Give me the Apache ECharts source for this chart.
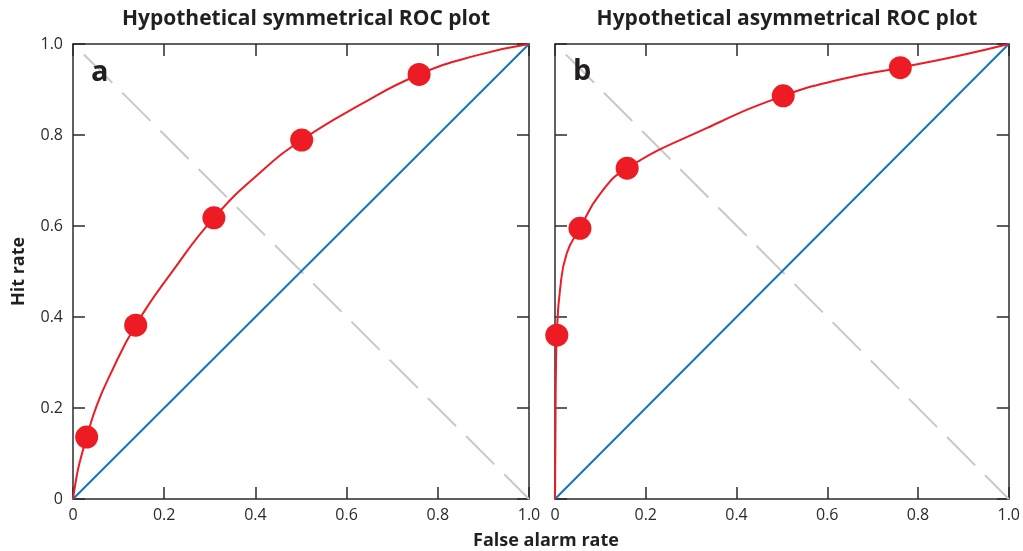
<!DOCTYPE html>
<html>
<head>
<meta charset="utf-8">
<script src="https://cdn.jsdelivr.net/npm/echarts@6/dist/echarts.min.js"></script>
<style>
  html, body { margin: 0; padding: 0; background: #fff; }
  #chart { width: 1023px; height: 551px; }
</style>
</head>
<body>
<div id="chart"></div>
<script>
// ---- Data ----
var tickValues = [0, 0.2, 0.4, 0.6, 0.8, 1.0];

// Panel a: symmetrical ROC
var symPointFA  = [0.030, 0.1375, 0.309, 0.5015, 0.759];
var symPointHit = [0.136, 0.382, 0.618, 0.789, 0.933];
var symCurveFA  = [0, 0.008, 0.014, 0.030, 0.052, 0.080, 0.1375, 0.220, 0.309, 0.410, 0.5015, 0.629, 0.759, 0.885, 1];
var symCurveHit = [0, 0.050, 0.078, 0.136, 0.205, 0.270, 0.382, 0.503, 0.618, 0.717, 0.789, 0.866, 0.933, 0.975, 1];

// Panel b: asymmetrical ROC
var asymPointFA  = [0.004, 0.055, 0.159, 0.503, 0.761];
var asymPointHit = [0.360, 0.595, 0.727, 0.886, 0.948];
var asymCurveFA  = [0, 0.001, 0.002, 0.004, 0.011, 0.026, 0.055, 0.099, 0.159, 0.334, 0.503, 0.628, 0.761, 0.885, 1];
var asymCurveHit = [0, 0.150, 0.280, 0.360, 0.459, 0.540, 0.595, 0.670, 0.727, 0.815, 0.886, 0.922, 0.948, 0.973, 1];

// Reference lines
var chanceFA  = [0, 1];
var chanceHit = [0, 1];
var antiFA  = [0.024, 1];
var antiHit = [0.977, 0];

var panelTitles = ['Hypothetical symmetrical ROC plot', 'Hypothetical asymmetrical ROC plot'];
var panelLetters = ['a', 'b'];
var xAxisTitle = 'False alarm rate';
var yAxisTitle = 'Hit rate';

// ---- Build ----
function zip(xs, ys) { return xs.map(function (x, i) { return [x, ys[i]]; }); }
function fmt(v) { return Math.abs(v) < 1e-9 ? '0' : v.toFixed(1); }

var RED = '#ED1C24', BLUE = '#1475BC', GRAY = '#C8C9CB', AX = '#2B2B2B';
var FONT = '"Open Sans", "Noto Sans", sans-serif';

var grids = [
  { left: 73, top: 44, width: 456, height: 455 },
  { left: 555, top: 44, width: 454, height: 455 }
];

function makeAxis(kind, gridIndex, position, showLabels) {
  return {
    type: 'value', gridIndex: gridIndex, position: position,
    min: 0, max: 1, interval: 0.2,
    axisLine: { show: true, onZero: false, lineStyle: { color: AX, width: 1.5 } },
    axisTick: { show: true, inside: true, length: 12, lineStyle: { color: AX, width: 1.5 } },
    axisLabel: {
      show: showLabels, formatter: fmt, color: '#2B2B2B',
      fontFamily: FONT, fontSize: 16, margin: kind === 'x' ? 8 : 10
    },
    splitLine: { show: false }
  };
}

var xAxes = [
  makeAxis('x', 0, 'bottom', true),
  makeAxis('x', 0, 'top', false),
  makeAxis('x', 1, 'bottom', true),
  makeAxis('x', 1, 'top', false)
];
var yAxes = [
  makeAxis('y', 0, 'left', true),
  makeAxis('y', 0, 'right', false),
  makeAxis('y', 1, 'left', false),
  makeAxis('y', 1, 'right', false)
];
yAxes[0].name = yAxisTitle;
yAxes[0].nameLocation = 'middle';
yAxes[0].nameRotate = 90;
yAxes[0].nameGap = 45;
yAxes[0].nameTextStyle = { fontFamily: FONT, fontWeight: 'bold', fontSize: 18, color: '#231F20' };

function panelSeries(gi, curveFA, curveHit, ptFA, ptHit) {
  var xi = gi * 2, yi = gi * 2;
  return [
    { type: 'line', xAxisIndex: xi, yAxisIndex: yi, data: zip(chanceFA, chanceHit),
      showSymbol: false, symbol: 'none', lineStyle: { color: BLUE, width: 2 }, z: 2, silent: true },
    { type: 'line', xAxisIndex: xi, yAxisIndex: yi, data: zip(antiFA, antiHit),
      showSymbol: false, symbol: 'none', lineStyle: { color: GRAY, width: 2, type: [40, 14] }, z: 1, silent: true },
    { type: 'line', xAxisIndex: xi, yAxisIndex: yi, data: zip(curveFA, curveHit),
      showSymbol: false, symbol: 'none', smooth: 0.5, lineStyle: { color: RED, width: 2 }, z: 3, silent: true },
    { type: 'scatter', xAxisIndex: xi, yAxisIndex: yi, data: zip(ptFA, ptHit),
      symbol: 'circle', symbolSize: 23, itemStyle: { color: RED, opacity: 1 }, z: 4, silent: true }
  ];
}

var option = {
  animation: false,
  backgroundColor: '#fff',
  grid: grids,
  xAxis: xAxes,
  yAxis: yAxes,
  title: [
    { text: panelTitles[0], left: 301, top: 4, textAlign: 'center',
      textStyle: { fontFamily: FONT, fontWeight: 'bold', fontSize: 21, color: '#231F20' } },
    { text: panelTitles[1], left: 782, top: 4, textAlign: 'center',
      textStyle: { fontFamily: FONT, fontWeight: 'bold', fontSize: 21, color: '#231F20' } },
    { text: xAxisTitle, left: 541, top: 527, textAlign: 'center',
      textStyle: { fontFamily: FONT, fontWeight: 'bold', fontSize: 18, color: '#231F20' } },
    { text: panelLetters[0], left: 86, top: 53,
      textStyle: { fontFamily: FONT, fontWeight: 'bold', fontSize: 29, color: '#231F20' } },
    { text: panelLetters[1], left: 568, top: 52,
      textStyle: { fontFamily: FONT, fontWeight: 'bold', fontSize: 29, color: '#231F20' } }
  ],
  series: [].concat(
    panelSeries(0, symCurveFA, symCurveHit, symPointFA, symPointHit),
    panelSeries(1, asymCurveFA, asymCurveHit, asymPointFA, asymPointHit)
  )
};

var chart = echarts.init(document.getElementById('chart'), null, { renderer: 'canvas' });
chart.setOption(option);
</script>
</body>
</html>
